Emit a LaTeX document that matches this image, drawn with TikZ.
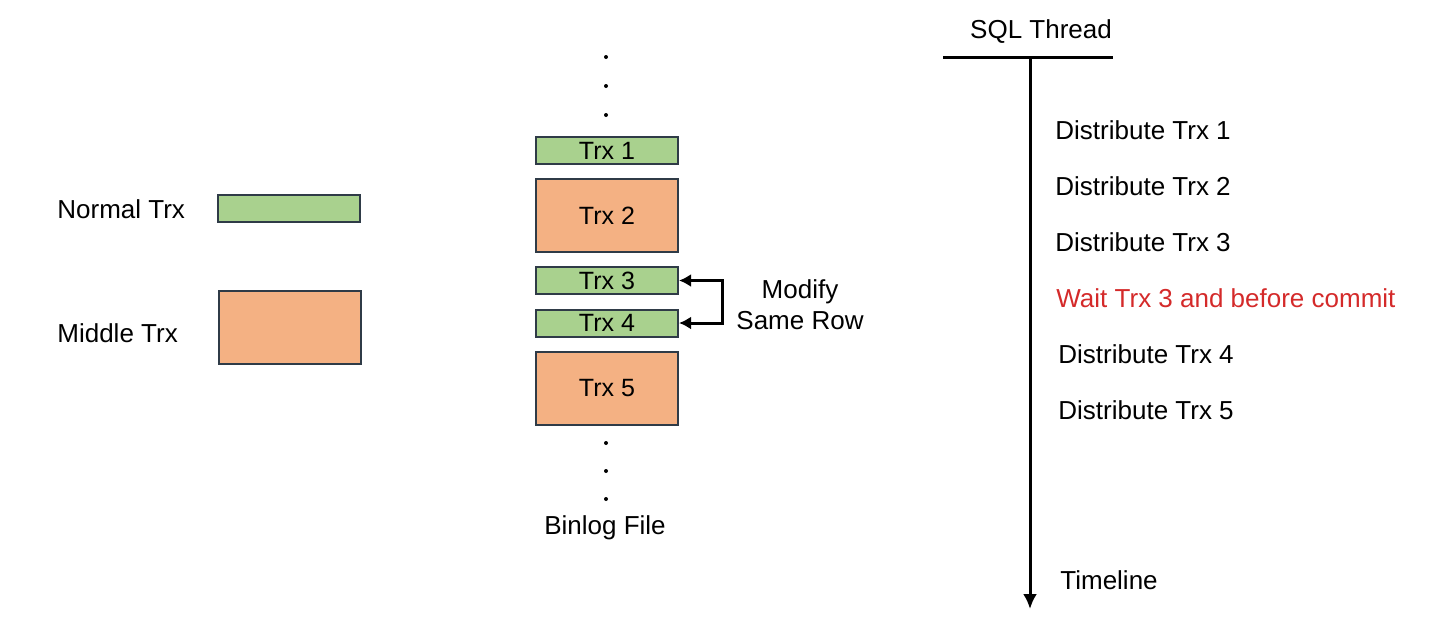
\documentclass[tikz,border=0pt]{standalone}
\usepackage{fontspec}
\setmainfont{Liberation Sans}
\usetikzlibrary{arrows.meta,positioning,calc}
\definecolor{trxgreen}{HTML}{A9D18E}
\definecolor{trxorange}{HTML}{F4B183}
\definecolor{trxedge}{HTML}{2F3B47}
\definecolor{waitred}{HTML}{D42A2A}
\tikzset{trxbox/.style={draw=trxedge,line width=1pt,minimum width=71pt,inner sep=0pt,font=\fontsize{12.5}{14}\selectfont},trxnormal/.style={trxbox,fill=trxgreen,minimum height=13.5pt},trxmiddle/.style={trxbox,fill=trxorange,minimum height=36.5pt},lbl/.style={inner sep=0pt,font=\fontsize{13}{15.5}\selectfont},flow/.style={-{Latex[length=7.5pt,width=7pt]},line width=1.5pt},both/.style={{Latex[length=6pt,width=6.5pt]}-{Latex[length=6pt,width=6.5pt]},line width=1.5pt},dotmark/.style={circle,fill,inner sep=0pt,minimum size=2pt}}

\begin{document}
\begin{tikzpicture}[x=0.5pt,y=-0.5pt]
\useasboundingbox (0,0) rectangle (1440,628);
% legend
\node[lbl,anchor=west] (normaltxt) at (57,209) {Normal Trx};
\node[trxnormal] (normalkey) at (289,208.5) {};
\node[lbl,anchor=west] (middletxt) at (57,333) {Middle Trx};
\node[trxmiddle] (middlekey) at (290,327.5) {};
% binlog file
\foreach \y [count=\i] in {57,86,115}
 \node[dotmark] (topdot\i) at (606,\y) {};
\node[trxnormal] (t1) at (607,150.5) {Trx 1};
\node[trxmiddle] (t2) at (607,215.5) {Trx 2};
\node[trxnormal] (t3) at (607,280.5) {Trx 3};
\node[trxnormal] (t4) at (607,323) {Trx 4};
\node[trxmiddle] (t5) at (607,388) {Trx 5};
\foreach \y [count=\i] in {443,471,499}
 \node[dotmark] (lowdot\i) at (606,\y) {};
\node[lbl] (binlog) at (605,528) {Binlog File};
\draw[both] (t4.east) -- ++(43,0) |- (t3.east);
\node[lbl,align=center] (samerow) at (800,305) {Modify\\Same Row};
% sql thread
\node[lbl] (sqlthread) at (1041,32) {SQL Thread};
\coordinate (barleft) at (943,57);
\coordinate (barright) at (1113,57);
\coordinate (timetop) at (1030,57);
\coordinate (timeend) at (1030,609);
\draw[line width=1.5pt] (barleft) -- (barright);
\draw[flow] (timetop) -- (timeend);
\node[lbl,anchor=west] (d1) at (1055,130) {Distribute Trx 1};
\node[lbl,anchor=west] (d2) at (1055,186) {Distribute Trx 2};
\node[lbl,anchor=west] (d3) at (1055,242) {Distribute Trx 3};
\node[lbl,anchor=west,text=waitred] (wait3) at (1056,298) {Wait Trx 3 and before commit};
\node[lbl,anchor=west] (d4) at (1058,354) {Distribute Trx 4};
\node[lbl,anchor=west] (d5) at (1058,410) {Distribute Trx 5};
\node[lbl,anchor=west] (timeline) at (1060,580) {Timeline};
\end{tikzpicture}
\end{document}
